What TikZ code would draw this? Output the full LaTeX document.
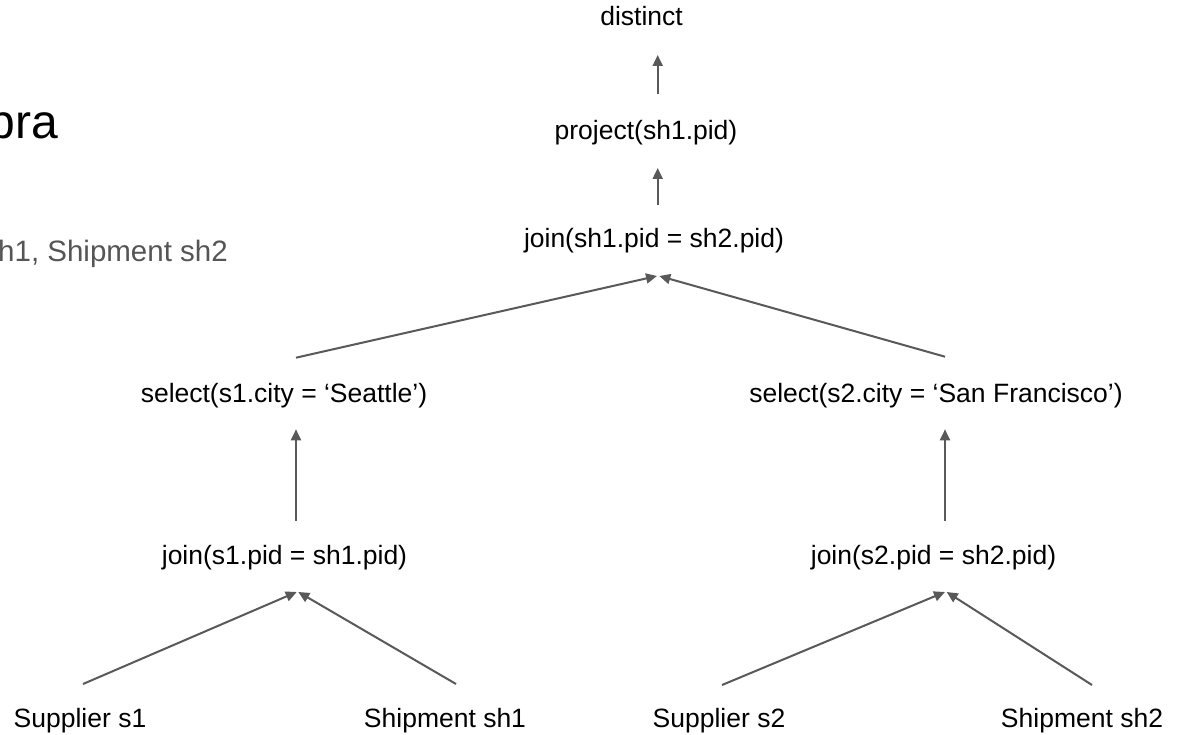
\documentclass[tikz,border=0pt]{standalone}
\usepackage{fontspec}
\setmainfont{Liberation Sans}
\usetikzlibrary{arrows.meta}
\definecolor{linegray}{HTML}{595959}
\definecolor{textgray}{HTML}{555555}
\tikzset{
  lbl/.style={anchor=base, inner sep=0pt, font=\fontsize{26.5}{30}\selectfont, text=black},
  arr/.style={draw=linegray, line width=2pt, -{Triangle[length=11pt,width=10pt]}},
}
\begin{document}
\begin{tikzpicture}[x=1pt,y=-1pt]
\useasboundingbox[fill=white] (0,0) rectangle (1181,735);
% partial title and text at left edge
\node[anchor=base east, inner sep=0pt, font=\fontsize{48}{56}\selectfont] (ttl) at (58,139) {bra};
\node[anchor=base east, inner sep=0pt, font=\fontsize{29.5}{34}\selectfont, text=textgray] (frm) at (228,262) {h1, Shipment sh2};
% tree nodes
\node[lbl] (dist) at (641.5,26) {distinct};
\node[lbl] (proj) at (646,140) {project(sh1.pid)};
\node[lbl] (jtop) at (654,248) {join(sh1.pid = sh2.pid)};
\node[lbl] (sel1) at (284,402) {select(s1.city = ‘Seattle’)};
\node[lbl] (sel2) at (936,402) {select(s2.city = ‘San Francisco’)};
\node[lbl] (j1) at (284.5,564) {join(s1.pid = sh1.pid)};
\node[lbl] (j2) at (933.5,564) {join(s2.pid = sh2.pid)};
\node[lbl] (sup1) at (80,727) {Supplier s1};
\node[lbl] (ship1) at (445,727) {Shipment sh1};
\node[lbl] (sup2) at (719,727) {Supplier s2};
\node[lbl] (ship2) at (1082,727) {Shipment sh2};
% connectors
\draw[arr] ([shift={(11.7,-46)}]proj.base) -- ([shift={(16.2,29)}]dist.base);
\draw[arr] ([shift={(3.7,-43)}]jtop.base) -- ([shift={(11.7,28)}]proj.base);
\draw[arr] ([shift={(12,-44.3)}]sel1.base) -- ([shift={(3,28)}]jtop.base);
\draw[arr] ([shift={(9,-45.3)}]sel2.base) -- ([shift={(5.3,28)}]jtop.base);
\draw[arr] ([shift={(11.5,-43.3)}]j1.base) -- ([shift={(12,27.3)}]sel1.base);
\draw[arr] ([shift={(11.5,-43.3)}]j2.base) -- ([shift={(9,27.3)}]sel2.base);
\draw[arr] ([shift={(3,-43)}]sup1.base) -- ([shift={(12.2,28)}]j1.base);
\draw[arr] ([shift={(11,-43)}]ship1.base) -- ([shift={(13.8,28)}]j1.base);
\draw[arr] ([shift={(3,-42)}]sup2.base) -- ([shift={(11.5,28)}]j2.base);
\draw[arr] ([shift={(10,-42)}]ship2.base) -- ([shift={(13.2,28)}]j2.base);
\end{tikzpicture}
\end{document}
